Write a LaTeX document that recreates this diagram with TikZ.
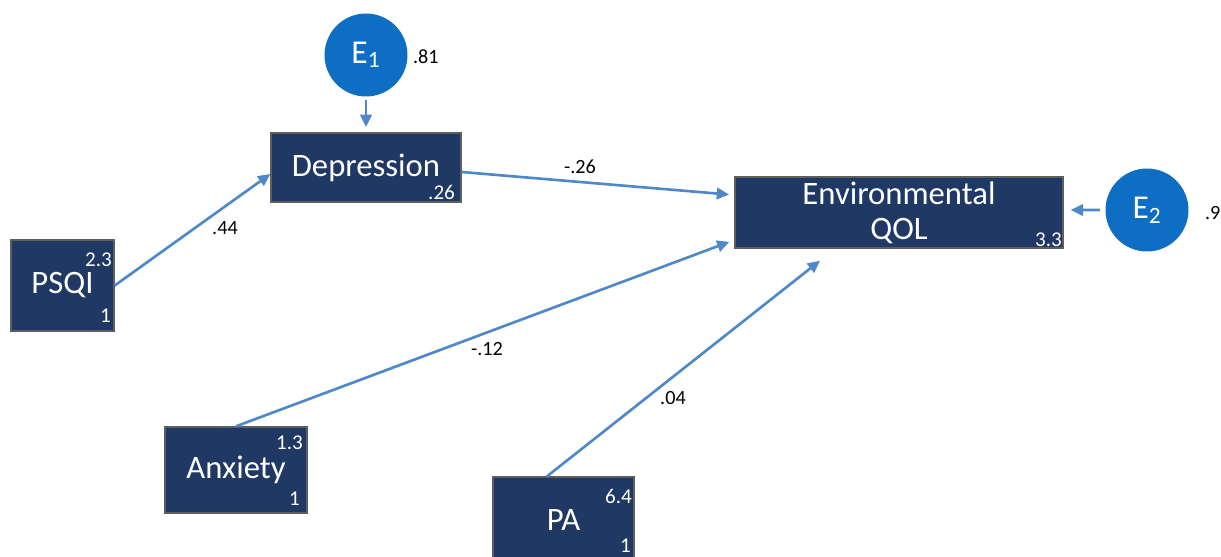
\documentclass[tikz,border=0pt]{standalone}
\usepackage{fontspec}
\setmainfont{Carlito}
\usetikzlibrary{arrows.meta}
\definecolor{boxnavy}{HTML}{1F3864}
\definecolor{boxedge}{HTML}{5E5E5E}
\definecolor{errblue}{HTML}{0D6EC3}
\definecolor{pathblue}{HTML}{4F88C8}
\tikzset{
  var/.style={rectangle, fill=boxnavy, draw=boxedge, line width=0.8pt, text=white,
    font=\fontsize{18.6}{20}\selectfont, align=center, inner sep=0pt},
  err/.style={circle, fill=errblue, text=white, minimum size=1.66cm, inner sep=0pt,
    font=\fontsize{19}{20}\selectfont},
  num/.style={text=white, font=\fontsize{12}{12}\selectfont, inner sep=1pt},
  coef/.style={text=black, font=\fontsize{11.5}{11.5}\selectfont, inner sep=1pt},
  path/.style={draw=pathblue, line width=1.5pt, -{Triangle[length=7pt,width=6.5pt]}}
}
\begin{document}
\begin{tikzpicture}[x=0.02cm,y=-0.02cm]
\clip (0,0) rectangle (1221,557);
\fill[white] (0,0) rectangle (1221,557);
\node[var, minimum width=3.8cm, minimum height=1.38cm] (dep) at (366,167.5){Depression};
\node[var, minimum width=6.56cm, minimum height=1.42cm] (env) at (899,212.5){Environmental\\QOL};
\node[var, minimum width=2.06cm, minimum height=1.82cm] (psqi) at (62.5,285.5){PSQI};
\node[var, minimum width=2.84cm, minimum height=1.72cm] (anx) at (236,470){Anxiety};
\node[var, minimum width=2.82cm, minimum height=1.72cm] (pa) at (563.5,520){PA};
\node[err] (e1) at (366,55){E\textsubscript{1}};
\node[err] (e2) at (1147,210){E\textsubscript{2}};
\node[num, anchor=east] (depV) at (457,192){.26};
\node[num, anchor=east] (envV) at (1064,240){3.3};
\node[num, anchor=east] (psqiV) at (114,260){2.3};
\node[num, anchor=east] (psqiI) at (113,316){1};
\node[num, anchor=east] (anxV) at (305,443){1.3};
\node[num, anchor=east] (anxI) at (302,499){1};
\node[num, anchor=east] (paV) at (634,496){6.4};
\node[num, anchor=east] (paI) at (633,546){1};
\node[coef, anchor=west] (e1V) at (411,57){.81};
\node[coef, anchor=west] (e2V) at (1203,213){.9};
\node[coef] (cDep) at (580,167){-.26};
\node[coef] (cPsqi) at (225,228){.44};
\node[coef] (cAnx) at (487,349){-.12};
\node[coef] (cPa) at (673,398){.04};
\draw[path, shorten <=2pt, shorten >=3pt](e1) -- (dep);
\draw[path, shorten <=3pt, shorten >=4pt](e2.west) -- ([yshift=0.05cm]env.east);
\draw[path](psqi.east) -- ([yshift=-0.13cm]dep.west);
\draw[path, shorten >=3pt]([yshift=-0.09cm]dep.east) -- ([yshift=0.35cm]env.west);
\draw[path, shorten >=3pt](anx.north) -- ([yshift=-0.55cm]env.west);
\draw[path]([xshift=-0.33cm]pa.north) -- ([xshift=-1.58cm,yshift=-0.24cm]env.south);
\end{tikzpicture}
\end{document}
